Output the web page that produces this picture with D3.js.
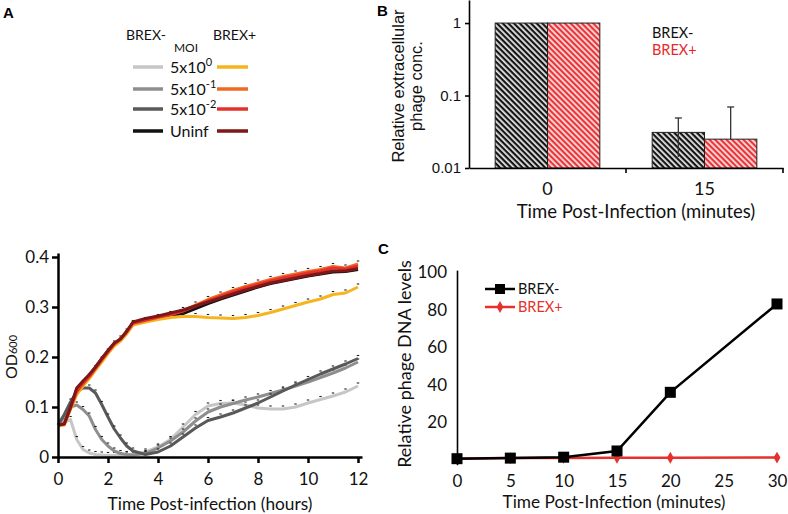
<!DOCTYPE html>
<html>
<head>
<meta charset="utf-8">
<script src="https://cdn.jsdelivr.net/npm/d3@7"></script>
<style>
  body { margin: 0; background: #fff; }
  svg { display: block; }
</style>
</head>
<body>
<svg id="fig" width="788" height="514"></svg>
<script>
// ---- panel A : growth curves (OD600 vs hours) ----
var hours = [0,0.25,0.5,0.75,1,1.25,1.5,1.75,2,2.25,2.5,2.75,3,3.5,4,4.5,5,5.5,6,6.5,7,7.5,8,8.5,9,9.5,10,10.5,11,11.5,12];

var odMinus5e0  = [0.064,0.07,0.075,0.035,0.015,0.008,0.005,0.004,0.003,0.003,0.003,0.004,0.005,0.01,0.02,0.035,0.06,0.085,0.102,0.107,0.108,0.104,0.098,0.096,0.096,0.1,0.108,0.115,0.122,0.13,0.142];
var odMinus5e1  = [0.064,0.08,0.1,0.104,0.095,0.082,0.055,0.035,0.022,0.012,0.007,0.005,0.004,0.007,0.018,0.032,0.05,0.072,0.09,0.1,0.107,0.114,0.12,0.127,0.134,0.142,0.15,0.159,0.168,0.178,0.19];
var odMinus5e2  = [0.064,0.085,0.11,0.13,0.138,0.138,0.128,0.105,0.08,0.056,0.038,0.022,0.012,0.005,0.01,0.022,0.04,0.058,0.073,0.08,0.088,0.098,0.108,0.12,0.132,0.144,0.155,0.166,0.176,0.186,0.197];
var odMinusUninf = [0.064,0.066,0.1,0.136,0.15,0.163,0.179,0.196,0.212,0.227,0.235,0.25,0.268,0.275,0.279,0.283,0.287,0.297,0.307,0.316,0.324,0.332,0.34,0.347,0.352,0.357,0.362,0.366,0.37,0.371,0.375];

var odPlus5e0   = [0.062,0.064,0.095,0.125,0.142,0.157,0.174,0.19,0.207,0.222,0.232,0.246,0.264,0.27,0.275,0.279,0.281,0.281,0.279,0.278,0.277,0.279,0.283,0.289,0.296,0.303,0.31,0.316,0.325,0.328,0.34];
var odPlus5e1   = [0.064,0.066,0.097,0.13,0.146,0.16,0.177,0.194,0.21,0.226,0.236,0.25,0.267,0.273,0.279,0.285,0.293,0.304,0.315,0.324,0.333,0.341,0.348,0.355,0.361,0.366,0.371,0.375,0.381,0.378,0.386];
var odPlus5e2   = [0.064,0.066,0.098,0.132,0.148,0.162,0.178,0.195,0.211,0.226,0.236,0.25,0.268,0.274,0.28,0.285,0.292,0.302,0.312,0.321,0.33,0.338,0.345,0.352,0.358,0.363,0.368,0.372,0.378,0.376,0.382];
var odPlusUninf = [0.064,0.066,0.1,0.138,0.152,0.165,0.18,0.197,0.213,0.228,0.236,0.252,0.27,0.277,0.282,0.288,0.294,0.302,0.31,0.318,0.326,0.334,0.341,0.348,0.353,0.358,0.363,0.367,0.372,0.372,0.377];

var moiLabels = ["5x10", "5x10", "5x10", "Uninf"];
var moiExps = ["0", "-1", "-2", ""];
var minusColors = ["#c6c6c6", "#8e8e8e", "#595959", "#111111"];
var plusColors = ["#f6b51e", "#f06a24", "#e5302c", "#7d1818"];
var hourTicks = [0, 2, 4, 6, 8, 10, 12];
var odTicks = [0, 0.1, 0.2, 0.3, 0.4];

// ---- panel B : extracellular phage (log bars) ----
var timesB = ["0", "15"];
var groupsB = ["BREX-", "BREX+"];
var concMinus = [1, 0.031];
var concPlus = [1, 0.025];
var errHiMinus = [1, 0.049];
var errLoMinus = [1, 0.0142];
var errHiPlus = [1, 0.0695];
var errLoPlus = [1, 0.012];
var concTicks = [0.01, 0.1, 1];

// ---- panel C : phage DNA levels ----
var minutes = [0, 5, 10, 15, 20, 30];
var dnaMinus = [0.7, 1, 1.5, 4.8, 36, 83];
var dnaPlus = [0.8, 1, 1.1, 1.2, 1.2, 1.3];
var minuteTicks = [0, 5, 10, 15, 20, 25, 30];
var dnaTicks = [20, 40, 60, 80, 100];

var calibri = "Lato, 'Open Sans', sans-serif";
var arial = "'Liberation Sans', Arial, sans-serif";

var svg = d3.select("#fig");

function styleAxis(g, font, size, sw) {
  g.attr("font-family", font).attr("font-size", size);
  g.selectAll("path, line").attr("stroke", "#000").attr("stroke-width", sw);
  g.selectAll("text").attr("fill", "#111");
}

// panel letters
svg.append("text").attr("x", 3).attr("y", 18).text("A")
  .attr("font-family", arial).attr("font-weight", "bold").attr("font-size", 15);
svg.append("text").attr("x", 377).attr("y", 16).text("B")
  .attr("font-family", arial).attr("font-weight", "bold").attr("font-size", 15);
svg.append("text").attr("x", 378).attr("y", 254).text("C")
  .attr("font-family", arial).attr("font-weight", "bold").attr("font-size", 15);

// ================= panel A =================
var xA = d3.scaleLinear().domain([0, 12.16]).range([58, 362]);
var yA = d3.scaleLinear().domain([0, 0.408]).range([457, 253]);

var seriesA = [
  {v: odMinusUninf, c: minusColors[3], err: false},
  {v: odMinus5e0, c: minusColors[0], err: true},
  {v: odMinus5e1, c: minusColors[1], err: true},
  {v: odMinus5e2, c: minusColors[2], err: true},
  {v: odPlus5e0, c: plusColors[0], err: true},
  {v: odPlus5e1, c: plusColors[1], err: true},
  {v: odPlus5e2, c: plusColors[2], err: false},
  {v: odPlusUninf, c: plusColors[3], err: false}
];

var lineA = d3.line()
  .x(function(d, i) { return xA(hours[i]); })
  .y(function(d) { return yA(d); });

var gA = svg.append("g");
seriesA.forEach(function(s) {
  gA.append("path")
    .attr("d", lineA(s.v))
    .attr("fill", "none")
    .attr("stroke", s.c)
    .attr("stroke-width", 3)
    .attr("stroke-linejoin", "round");
  if (s.err) {
    gA.selectAll(null)
      .data(s.v.slice(2))
      .enter().append("line")
      .attr("x1", function(d, i) { return xA(hours[i + 2]) - 1.2; })
      .attr("x2", function(d, i) { return xA(hours[i + 2]) + 1.2; })
      .attr("y1", function(d) { return yA(d) - 3; })
      .attr("y2", function(d) { return yA(d) - 3; })
      .attr("stroke", "#222")
      .attr("stroke-width", 1.1);
  }
});

var axA_y = svg.append("g").attr("transform", "translate(58,0)")
  .call(d3.axisLeft(yA).tickValues(odTicks).tickSize(6).tickSizeOuter(0).tickPadding(3)
    .tickFormat(function(d) { return d === 0 ? "0" : d3.format(".1f")(d); }));
styleAxis(axA_y, calibri, 17, 2.5);

var axA_x = svg.append("g").attr("transform", "translate(0,457)")
  .call(d3.axisBottom(xA).tickValues(hourTicks).tickSize(6).tickSizeOuter(0).tickPadding(10));
styleAxis(axA_x, calibri, 17, 2.5);

svg.append("text")
  .attr("x", 210).attr("y", 510)
  .attr("text-anchor", "middle")
  .attr("font-family", calibri).attr("font-size", 17.3).attr("fill", "#111")
  .text("Time Post-infection (hours)");

var odLabel = svg.append("text")
  .attr("transform", "translate(17,357) rotate(-90)")
  .attr("text-anchor", "middle")
  .attr("font-family", calibri).attr("font-size", 16).attr("fill", "#111");
odLabel.append("tspan").text("OD");
odLabel.append("tspan").attr("font-size", 11).text("600");

// legend A
var legA = svg.append("g").attr("font-family", calibri).attr("fill", "#111");
legA.append("text").attr("x", 126).attr("y", 40).attr("font-size", 14).text("BREX-");
legA.append("text").attr("x", 213).attr("y", 40).attr("font-size", 14).text("BREX+");
legA.append("text").attr("x", 186).attr("y", 52).attr("font-size", 12).attr("text-anchor", "middle").text("MOI");
var legRowsY = [67, 89, 109, 131];
moiLabels.forEach(function(lab, i) {
  var y = legRowsY[i];
  legA.append("line").attr("x1", 133).attr("x2", 163).attr("y1", y).attr("y2", y)
    .attr("stroke", minusColors[i]).attr("stroke-width", 3.5);
  legA.append("line").attr("x1", 217).attr("x2", 248).attr("y1", y).attr("y2", y)
    .attr("stroke", plusColors[i]).attr("stroke-width", 3.5);
  var t = legA.append("text").attr("x", 170).attr("y", y + 6).attr("font-size", 16);
  t.append("tspan").text(lab);
  if (moiExps[i]) t.append("tspan").attr("font-size", 11).attr("dy", -7).text(moiExps[i]);
});

// ================= panel B =================
var xB = d3.scaleBand().domain(timesB).range([469, 783]);
var subB = d3.scaleBand().domain(groupsB).range([0, xB.bandwidth()]).paddingInner(0).paddingOuter(0.5);
var yB = d3.scaleLog().domain([0.01, 2.08]).range([168, 0]);

var defs = svg.append("defs");
function hatch(id, bg, fg) {
  var p = defs.append("pattern").attr("id", id)
    .attr("patternUnits", "userSpaceOnUse")
    .attr("width", 4).attr("height", 4)
    .attr("patternTransform", "rotate(45)");
  p.append("rect").attr("width", 4).attr("height", 4).attr("fill", bg);
  p.append("rect").attr("width", 4).attr("height", 2.2).attr("fill", fg);
}
hatch("hatchBlack", "#e6e6e6", "#151515");
hatch("hatchRed", "#ffdede", "#e8353a");

var barsB = [];
timesB.forEach(function(t, i) {
  barsB.push({t: t, g: "BREX-", v: concMinus[i], hi: errHiMinus[i], lo: errLoMinus[i], fill: "url(#hatchBlack)"});
  barsB.push({t: t, g: "BREX+", v: concPlus[i], hi: errHiPlus[i], lo: errLoPlus[i], fill: "url(#hatchRed)"});
});

function errLine(sel, d, loVal) {
  var cx = xB(d.t) + subB(d.g) + subB.bandwidth() / 2;
  sel.append("line").attr("x1", cx).attr("x2", cx)
    .attr("y1", yB(d.hi)).attr("y2", yB(loVal))
    .attr("stroke", "#333").attr("stroke-width", 1.3);
  sel.append("line").attr("x1", cx - 3.5).attr("x2", cx + 3.5)
    .attr("y1", yB(d.hi)).attr("y2", yB(d.hi))
    .attr("stroke", "#333").attr("stroke-width", 1.3);
}

var gB = svg.append("g");
gB.selectAll("rect.bar").data(barsB).enter().append("rect")
  .attr("class", "bar")
  .attr("x", function(d) { return xB(d.t) + subB(d.g); })
  .attr("width", subB.bandwidth())
  .attr("y", function(d) { return yB(d.v); })
  .attr("height", function(d) { return yB(0.01) - yB(d.v); })
  .attr("fill", function(d) { return d.fill; })
  .attr("stroke", "#222").attr("stroke-width", 1);
// BREX- error shows through its bar; the BREX+ one only above its bar
barsB.filter(function(d) { return d.hi > d.v; }).forEach(function(d) {
  errLine(gB, d, d.g === "BREX-" ? d.lo : d.v);
});

var axB_y = svg.append("g").attr("transform", "translate(469,0)")
  .call(d3.axisLeft(yB).tickValues(concTicks).tickSize(4).tickSizeOuter(0).tickPadding(4)
    .tickFormat(function(d) { return d === 1 ? "1" : String(d); }));
styleAxis(axB_y, arial, 15, 1.6);

var axB_x = svg.append("g").attr("transform", "translate(0,168)")
  .call(d3.axisBottom(xB).tickSize(0).tickSizeOuter(0).tickPadding(14));
styleAxis(axB_x, calibri, 18, 1.6);
axB_x.selectAll(".bdry").data(timesB).enter().append("line")
  .attr("x1", function(d) { return xB(d) + xB.bandwidth(); })
  .attr("x2", function(d) { return xB(d) + xB.bandwidth(); })
  .attr("y1", 0).attr("y2", 5)
  .attr("stroke", "#000").attr("stroke-width", 1.6);

svg.append("text")
  .attr("x", 636).attr("y", 218)
  .attr("text-anchor", "middle")
  .attr("font-family", calibri).attr("font-size", 18.5).attr("fill", "#111")
  .text("Time Post-Infection (minutes)");

var yTitleB = svg.append("text")
  .attr("transform", "translate(404,86) rotate(-90)")
  .attr("text-anchor", "middle")
  .attr("font-family", arial).attr("font-size", 16.5).attr("fill", "#111");
yTitleB.append("tspan").attr("x", 0).attr("dy", 0).text("Relative extracellular");
yTitleB.append("tspan").attr("x", 0).attr("dy", 18).text("phage conc.");

svg.append("text").attr("x", 652).attr("y", 38)
  .attr("font-family", calibri).attr("font-size", 14.5).attr("fill", "#111").text("BREX-");
svg.append("text").attr("x", 652).attr("y", 55)
  .attr("font-family", calibri).attr("font-size", 14.5).attr("fill", "#e8282b").text("BREX+");

// ================= panel C =================
var xC = d3.scaleLinear().domain([0, 30]).range([457, 777]);
var yC = d3.scaleLinear().domain([0, 100]).range([460, 272]);

var lineC = d3.line()
  .x(function(d, i) { return xC(minutes[i]); })
  .y(function(d) { return yC(d); });

var axC_y = svg.append("g").attr("transform", "translate(457,0)")
  .call(d3.axisLeft(d3.scaleLinear().domain([-2.5, 101]).range([yC(-2.5), yC(101)]))
    .tickValues(dnaTicks).tickSize(0).tickSizeOuter(0).tickPadding(10));
styleAxis(axC_y, calibri, 17, 1.6);

var axC_x = svg.append("g").attr("transform", "translate(0,466)")
  .call(d3.axisBottom(xC).tickValues(minuteTicks).tickSize(0).tickPadding(9));
styleAxis(axC_x, calibri, 17, 1.6);
axC_x.select(".domain").remove();

var gC = svg.append("g");
gC.append("path").attr("d", lineC(dnaPlus))
  .attr("fill", "none").attr("stroke", "#e5302c").attr("stroke-width", 2.5);
gC.selectAll("path.dia").data(dnaPlus).enter().append("path")
  .attr("class", "dia")
  .attr("transform", function(d, i) { return "translate(" + xC(minutes[i]) + "," + yC(d) + ")"; })
  .attr("d", d3.symbol(d3.symbolDiamond, 40))
  .attr("fill", "#e5302c");
gC.append("path").attr("d", lineC(dnaMinus))
  .attr("fill", "none").attr("stroke", "#000").attr("stroke-width", 2.5);
gC.selectAll("rect.sq").data(dnaMinus).enter().append("rect")
  .attr("class", "sq")
  .attr("x", function(d, i) { return xC(minutes[i]) - 5.5; })
  .attr("y", function(d) { return yC(d) - 5.5; })
  .attr("width", 11).attr("height", 11)
  .attr("fill", "#000");

svg.append("text")
  .attr("x", 614).attr("y", 508)
  .attr("text-anchor", "middle")
  .attr("font-family", calibri).attr("font-size", 17.3).attr("fill", "#111")
  .text("Time Post-Infection (minutes)");

svg.append("text")
  .attr("transform", "translate(411,364) rotate(-90)")
  .attr("text-anchor", "middle")
  .attr("font-family", calibri).attr("font-size", 18).attr("fill", "#111")
  .text("Relative phage DNA levels");

// legend C
var legC = svg.append("g").attr("font-family", calibri).attr("font-size", 14.5);
legC.append("line").attr("x1", 485).attr("x2", 515).attr("y1", 289).attr("y2", 289)
  .attr("stroke", "#000").attr("stroke-width", 2.5);
legC.append("rect").attr("x", 495).attr("y", 284).attr("width", 10).attr("height", 10).attr("fill", "#000");
legC.append("text").attr("x", 518).attr("y", 294).attr("fill", "#111").text("BREX-");
legC.append("line").attr("x1", 485).attr("x2", 515).attr("y1", 307).attr("y2", 307)
  .attr("stroke", "#e5302c").attr("stroke-width", 2.5);
legC.append("path").attr("transform", "translate(500,307)")
  .attr("d", d3.symbol(d3.symbolDiamond, 40)).attr("fill", "#e5302c");
legC.append("text").attr("x", 518).attr("y", 312).attr("fill", "#e5302c").text("BREX+");
</script>
</body>
</html>
